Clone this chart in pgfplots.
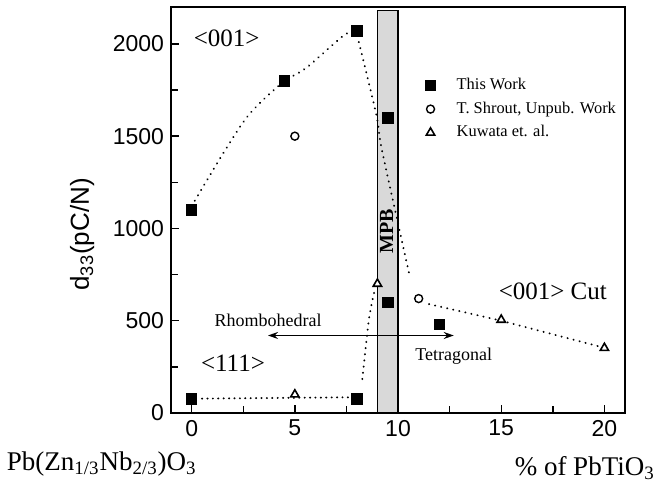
\documentclass[border=0pt]{standalone}
\usepackage{fontspec}
\setmainfont{Liberation Serif}
\setsansfont{Liberation Sans}
\usepackage{pgfplots}
\pgfplotsset{compat=1.18}
\usetikzlibrary{arrows.meta}
\begin{document}
\begin{tikzpicture}
\begin{axis}[
 scale only axis, width=227pt, height=203pt,
 xmin=-1, xmax=21, ymin=0, ymax=2200,
 xtick={0,5,10,15,20}, minor xtick={2.5,7.5,12.5,17.5},
 ytick={0,500,1000,1500,2000}, minor ytick={250,750,1250,1750},
 tick align=inside, tick pos=left, major tick length=4pt, minor tick length=3.5pt,
 tick style={line width=0.7pt, black},
 axis line style={line width=0.8pt},
 ticklabel style={font=\sffamily\fontsize{11.5}{12}\selectfont},
 /pgf/number format/assume math mode=true,
 /pgf/number format/1000 sep={},
 scaled ticks=false,
 ylabel={d\textsubscript{33}(pC/N)},
 ylabel style={font=\sffamily\fontsize{13}{14}\selectfont, at={(axis description cs:-0.196,0.44)}, anchor=center},
 legend style={at={(rel axis cs:0.546,0.845)}, anchor=north west, draw=none, fill=none, font=\fontsize{8.2}{9}\selectfont, row sep=0.6pt, column sep=8.5pt},
 legend cell align=left,
 clip=false,
]
% MPB band
\addplot[fill=gray!30, draw=black, line width=0.6pt, forget plot] coordinates {(9,0) (9,2180) (10,2180) (10,0) (9,0)};
% dotted guide curves
\addplot[smooth, line width=1pt, line cap=round, dash pattern=on 0.1pt off 3pt, forget plot] coordinates {(0.15,1150) (1.6,1420) (2.8,1620) (4.4,1790) (5.55,1870) (7.3,2040) (7.85,2070)};
\addplot[smooth, line width=1pt, line cap=round, dash pattern=on 0.1pt off 3pt, forget plot] coordinates {(8.1,2010) (8.94,1620) (9.23,1420) (10.53,760)};
\addplot[line width=1pt, line cap=round, dash pattern=on 0.1pt off 2.6pt, forget plot] coordinates {(0.5,78) (7.6,85)};
\addplot[smooth, line width=1pt, line cap=round, dash pattern=on 0.1pt off 3pt, forget plot] coordinates {(8.27,184) (8.6,515) (8.9,680)};
\addplot[line width=1pt, line cap=round, dash pattern=on 0.1pt off 3pt, forget plot] coordinates {(11.5,590) (15,500) (19.7,362)};
% arrow
\draw[{Stealth[length=5pt,width=3.5pt]}-{Stealth[length=5pt,width=3.5pt]}, line width=0.6pt] (axis cs:3.7,420) -- (axis cs:12.7,420);
% data
\addplot[only marks, mark=square*, mark size=2.6pt, black] coordinates {(0,1100) (4.5,1800) (8,2070) (9.5,1600) (9.5,600) (12,480) (0,76) (8,76)};
\addlegendentry{This Work}
\addplot[only marks, mark=o, mark size=2pt, black, line width=0.7pt, fill=white, mark options={fill=white}] coordinates {(5,1500) (11,620)};
\addlegendentry{T. Shrout, Unpub. Work}
\addplot[only marks, mark=triangle*, mark size=2.4pt, black, line width=0.8pt, mark options={fill=white}] coordinates {(5,100) (9,700) (15,505) (20,352)};
\addlegendentry{Kuwata et. al.}
% texts
\node[font=\fontsize{12.5}{14}\selectfont] at (axis cs:1.7,2030) {\textless001\textgreater};
\node[font=\fontsize{12.5}{14}\selectfont] at (axis cs:2.0,270) {\textless111\textgreater};
\node[font=\fontsize{12.5}{14}\selectfont] at (axis cs:17.5,660) {\textless001\textgreater\ Cut};
\node[font=\fontsize{9}{10}\selectfont] at (axis cs:3.7,500) {Rhombohedral};
\node[font=\fontsize{9}{10}\selectfont] at (axis cs:12.7,310) {Tetragonal};
\node[font=\bfseries\fontsize{10}{11}\selectfont, rotate=90] at (axis cs:9.45,985) {MPB};
\node[anchor=west, font=\fontsize{13.5}{15}\selectfont] at (rel axis cs:-0.377,-0.125) {Pb(Zn\textsubscript{1/3}Nb\textsubscript{2/3})O\textsubscript{3}};
\node[anchor=east, font=\fontsize{13.5}{15}\selectfont] at (rel axis cs:1.081,-0.135) {\% of PbTiO\textsubscript{3}};
\path (rel axis cs:-0.3767,1.0172) rectangle (rel axis cs:1.088,-0.197);
\end{axis}
\end{tikzpicture}
\end{document}
